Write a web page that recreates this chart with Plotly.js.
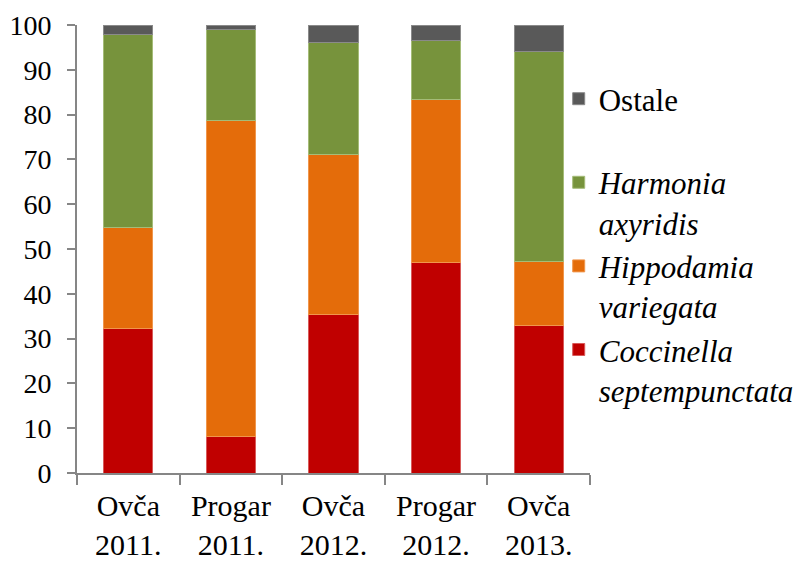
<!DOCTYPE html>
<html><head><meta charset="utf-8">
<script src="https://cdn.plot.ly/plotly-3.0.1.min.js"></script>
<style>html,body{margin:0;padding:0;background:#fff}</style>
</head><body>
<div id="chart" style="width:803px;height:562px"></div>
<script>
const categories = ["Ovča<br>2011.", "Progar<br>2011.", "Ovča<br>2012.", "Progar<br>2012.", "Ovča<br>2013."];
const coccinella = [32.2, 8.2, 35.3, 47.0, 32.9];
const hippodamia = [22.6, 70.5, 35.9, 36.4, 14.3];
const harmonia = [43.1, 20.2, 24.8, 13.2, 46.8];
const ostale = [2.1, 1.1, 4.0, 3.4, 6.0];
const yTicks = [0, 10, 20, 30, 40, 50, 60, 70, 80, 90, 100];

function bar(name, y, color, edge) {
  return {type: 'bar', x: categories, y: y, name: name,
    marker: {color: color, line: {color: edge, width: 1}}, hoverinfo: 'skip'};
}
const traces = [
  bar('<i>Coccinella</i><br><i>septempunctata</i>', coccinella, '#C00000', '#D85A5A'),
  bar('<i>Hippodamia</i><br><i>variegata</i>', hippodamia, '#E46C0A', '#F0964C'),
  bar('<i>Harmonia</i><br><i>axyridis</i>', harmonia, '#77933C', '#A5BC78'),
  bar('Ostale<br>\u00a0', ostale, '#595959', '#8A8A8A')
];
const axisColor = '#868686';
const serif = 'Liberation Serif';
const layout = {
  width: 803, height: 562,
  margin: {l: 77, r: 213, t: 25, b: 89, autoexpand: false},
  barmode: 'stack', bargap: 0.52,
  paper_bgcolor: '#fff', plot_bgcolor: '#fff',
  font: {family: serif, color: '#000'},
  showlegend: true,
  legend: {x: 0.939, xanchor: 'left', y: 0.895, yanchor: 'top', traceorder: 'reversed',
    valign: 'top', font: {size: 31, family: serif, color: '#000'}, tracegroupgap: 0,
    bgcolor: 'rgba(0,0,0,0)'},
  xaxis: {type: 'category', showline: true, linecolor: axisColor, linewidth: 2,
    ticks: 'outside', tickson: 'boundaries', ticklen: 10, tickwidth: 2, tickcolor: axisColor,
    ticklabelstandoff: 5,
    tickfont: {size: 30, family: serif, color: '#000'}, showgrid: false, zeroline: false, fixedrange: true},
  yaxis: {range: [0, 100], tickvals: yTicks, ticktext: yTicks.map(String),
    showline: true, linecolor: axisColor, linewidth: 2,
    ticks: 'outside', ticklen: 8, tickwidth: 2, tickcolor: axisColor,
    ticklabelstandoff: 10,
    tickfont: {size: 28, family: serif, color: '#000'}, showgrid: false, zeroline: false, fixedrange: true}
};
Plotly.newPlot('chart', traces, layout, {displayModeBar: false, staticPlot: true});
</script>
</body></html>
